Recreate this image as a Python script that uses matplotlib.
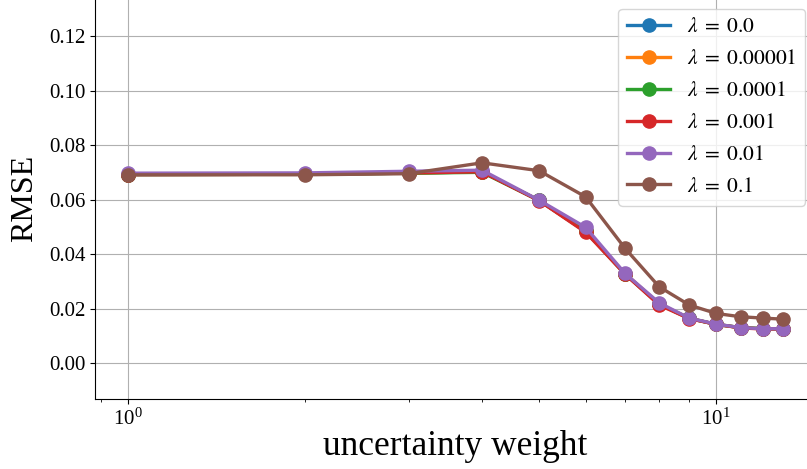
import matplotlib
matplotlib.use("Agg")
import matplotlib.pyplot as plt
from matplotlib.ticker import MultipleLocator

plt.rcParams['font.family'] = ['Liberation Serif', 'DejaVu Serif']
plt.rcParams['mathtext.fontset'] = 'stix'

# uncertainty weights (x axis, log scale)
weights = [1, 2, 3, 4, 5, 6, 7, 8, 9, 10, 11, 12, 13]

lambdas = ['0.0', '0.00001', '0.0001', '0.001', '0.01', '0.1']

rmse_0 = [0.0692, 0.0693, 0.0697, 0.0702, 0.0597, 0.0483, 0.0327, 0.0216, 0.0164, 0.0142, 0.0130, 0.0126, 0.0126]
rmse_1e5 = [0.0692, 0.0693, 0.0697, 0.0702, 0.0597, 0.0484, 0.0328, 0.0217, 0.0164, 0.0142, 0.0130, 0.0126, 0.0126]
rmse_1e4 = [0.0692, 0.0693, 0.0697, 0.0700, 0.0597, 0.0483, 0.0327, 0.0216, 0.0164, 0.0142, 0.0130, 0.0126, 0.0126]
rmse_1e3 = [0.0692, 0.0693, 0.0698, 0.0702, 0.0596, 0.0480, 0.0326, 0.0213, 0.0163, 0.0142, 0.0129, 0.0125, 0.0125]
rmse_1e2 = [0.0697, 0.0698, 0.0704, 0.0708, 0.0598, 0.0498, 0.0329, 0.0221, 0.0165, 0.0143, 0.0130, 0.0126, 0.0126]
rmse_1e1 = [0.0691, 0.0691, 0.0695, 0.0735, 0.0706, 0.0610, 0.0421, 0.0280, 0.0213, 0.0182, 0.0170, 0.0165, 0.0161]

series = [rmse_0, rmse_1e5, rmse_1e4, rmse_1e3, rmse_1e2, rmse_1e1]

fig = plt.figure(figsize=(8.07, 4.69), dpi=100)
ax = fig.add_axes([95 / 807, 70 / 469, 721 / 807, 401 / 469])

for lam, vals in zip(lambdas, series):
    ax.plot(weights, vals, marker='o', markersize=9.5, linewidth=2.4,
            label=r'$\lambda \;=\; %s$' % lam)

ax.set_xscale('log')
ax.set_ylim(-0.0132, 0.134)
ax.yaxis.set_major_locator(MultipleLocator(0.02))
ax.grid(True)
ax.tick_params(labelsize=15)

ax.set_xlabel('uncertainty weight', fontsize=25.5, labelpad=0)
ax.set_ylabel('RMSE', fontsize=23, labelpad=7)
ax.legend(loc='upper right', fontsize=15.5, labelspacing=0.55)

fig.savefig('out.png', dpi=100)
